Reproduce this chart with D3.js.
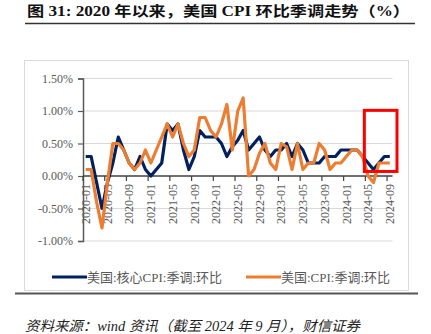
<!DOCTYPE html>
<html><head><meta charset="utf-8">
<script src="https://cdn.jsdelivr.net/npm/d3@7"></script>
<style>
html,body{margin:0;padding:0;background:#fff;}
svg{display:block;}
</style></head>
<body>
<svg id="chart" width="431" height="334"></svg>
<script>
const months = [
"2020-01","2020-02","2020-03","2020-04","2020-05","2020-06","2020-07","2020-08","2020-09","2020-10","2020-11","2020-12",
"2021-01","2021-02","2021-03","2021-04","2021-05","2021-06","2021-07","2021-08","2021-09","2021-10","2021-11","2021-12",
"2022-01","2022-02","2022-03","2022-04","2022-05","2022-06","2022-07","2022-08","2022-09","2022-10","2022-11","2022-12",
"2023-01","2023-02","2023-03","2023-04","2023-05","2023-06","2023-07","2023-08","2023-09","2023-10","2023-11","2023-12",
"2024-01","2024-02","2024-03","2024-04","2024-05","2024-06","2024-07","2024-08","2024-09"];
const coreCPI = [
0.3,0.3,-0.1,-0.5,-0.1,0.2,0.6,0.4,0.2,0.1,0.3,0.1,
0.0,0.1,0.2,0.8,0.7,0.8,0.4,0.1,0.3,0.7,0.6,0.6,
0.6,0.5,0.3,0.45,0.55,0.7,0.4,0.5,0.6,0.4,0.3,0.4,
0.4,0.5,0.3,0.5,0.4,0.2,0.2,0.2,0.3,0.3,0.3,0.4,
0.4,0.4,0.4,0.3,0.2,0.1,0.2,0.3,0.3];
const headlineCPI = [
0.1,0.1,-0.4,-0.8,-0.1,0.5,0.5,0.4,0.2,0.1,0.2,0.4,
0.2,0.4,0.6,0.8,0.6,0.8,0.5,0.3,0.4,0.9,0.9,0.7,
0.6,0.8,1.1,0.4,1.0,1.2,0.0,0.1,0.35,0.5,0.2,0.1,
0.5,0.45,0.1,0.5,0.1,0.2,0.2,0.5,0.4,0.1,0.2,0.2,
0.3,0.4,0.4,0.3,0.0,-0.1,0.2,0.2,0.2];
const xTickLabels = ["2020-01","2020-05","2020-09","2021-01","2021-05","2021-09","2022-01","2022-05","2022-09","2023-01","2023-05","2023-09","2024-01","2024-05","2024-09"];
const yTicks = [-1,-0.5,0,0.5,1,1.5];
const seriesNames = ["美国:核心CPI:季调:环比","美国:CPI:季调:环比"];
const seriesColors = ["#002060","#ED7D31"];
const highlightRange = ["2024-05","2024-09"];
const highlightValues = [1.01, 0.07];

const svg = d3.select("#chart");
const serif = "'Liberation Serif','Times New Roman','Noto Sans CJK SC',serif";
const gray = "#595959";

// Title
svg.append("text").attr("x",27).attr("y",16)
  .attr("font-family",serif).attr("font-weight","bold").attr("font-size",14)
  .attr("fill","#111").attr("textLength",383).attr("lengthAdjust","spacingAndGlyphs")
  .text("图 31: 2020 年以来，美国 CPI 环比季调走势（%）");
svg.append("line").attr("x1",25).attr("x2",415).attr("y1",23.5).attr("y2",23.5)
  .attr("stroke","#333").attr("stroke-width",1.5);

// Chart frame
svg.append("rect").attr("x",24.5).attr("y",60.5).attr("width",384).attr("height",230)
  .attr("fill","none").attr("stroke","#d9d9d9").attr("stroke-width",1);

const x = d3.scaleBand().domain(months).range([83,392.5]).padding(0);
const y = d3.scaleLinear().domain([-1,1.5]).range([241,78.5]);
const bw = x.bandwidth();
const cx = d => x(d) + bw/2;

// gridlines
svg.append("g").selectAll("line").data(yTicks.filter(d=>d!==0)).join("line")
  .attr("x1",x.range()[0]).attr("x2",x.range()[1])
  .attr("y1",d=>y(d)).attr("y2",d=>y(d))
  .attr("stroke","#d9d9d9").attr("stroke-width",1);

// Y axis
const yAxis = svg.append("g").attr("transform",`translate(${x.range()[0]},0)`)
  .call(d3.axisLeft(y).tickValues(yTicks).tickFormat(d=>d.toFixed(2)+"%").tickSize(5).tickPadding(5));
yAxis.select(".domain").attr("stroke",gray).attr("stroke-width",1.5);
yAxis.selectAll(".tick line").attr("stroke",gray).attr("stroke-width",1.2);
yAxis.selectAll("text").attr("font-family",serif).attr("font-size",12).attr("fill",gray);

// X axis at zero
const xAxis = svg.append("g").attr("transform",`translate(0,${y(0)})`)
  .call(d3.axisBottom(x).tickValues(xTickLabels).tickSize(0));
xAxis.select(".domain").remove();
xAxis.selectAll("text").attr("font-family",serif).attr("font-size",12).attr("fill",gray)
  .attr("transform","rotate(-90)").attr("text-anchor","end")
  .attr("x",-8).attr("y",0).attr("dy","0.35em");
svg.append("line").attr("x1",x.range()[0]).attr("x2",x.range()[1])
  .attr("y1",y(0)).attr("y2",y(0)).attr("stroke","#404040").attr("stroke-width",1.5);
svg.append("g").selectAll("line").data(xTickLabels).join("line")
  .attr("x1",d=>x(d)).attr("x2",d=>x(d)).attr("y1",y(0)).attr("y2",y(0)+5)
  .attr("stroke","#404040").attr("stroke-width",1.2);

// Lines
const line = d3.line().x((d,i)=>cx(months[i])).y(d=>y(d));
[coreCPI, headlineCPI].forEach((s,k)=>{
  svg.append("path").datum(s).attr("d",line).attr("fill","none")
    .attr("stroke",seriesColors[k]).attr("stroke-width",3.2)
    .attr("stroke-linejoin","round").attr("stroke-linecap","butt");
});

// Highlight rectangle
const hx0 = x(highlightRange[0]) - 1;
const hx1 = x(highlightRange[1]) + bw + 4.5;
svg.append("rect").attr("x",hx0).attr("y",y(highlightValues[0]))
  .attr("width",hx1-hx0).attr("height",y(highlightValues[1])-y(highlightValues[0]))
  .attr("fill","none").attr("stroke","#FF0000").attr("stroke-width",3);

// Legend
const legendX = [52,246];
seriesNames.forEach((n,k)=>{
  svg.append("line").attr("x1",legendX[k]).attr("x2",legendX[k]+35)
    .attr("y1",277).attr("y2",277).attr("stroke",seriesColors[k]).attr("stroke-width",3);
  svg.append("text").attr("x",legendX[k]+35).attr("y",281.5)
    .attr("font-family",serif).attr("font-size",13).attr("fill",gray).text(n);
});

// Source
svg.append("line").attr("x1",15).attr("x2",418).attr("y1",293.5).attr("y2",293.5)
  .attr("stroke","#555").attr("stroke-width",2);
svg.append("text").attr("x",25).attr("y",331)
  .attr("font-family",serif).attr("font-style","italic").attr("font-size",14)
  .attr("fill","#222").attr("textLength",335).attr("lengthAdjust","spacingAndGlyphs")
  .text("资料来源：wind 资讯（截至 2024 年 9 月），财信证券");
</script>
</body></html>
